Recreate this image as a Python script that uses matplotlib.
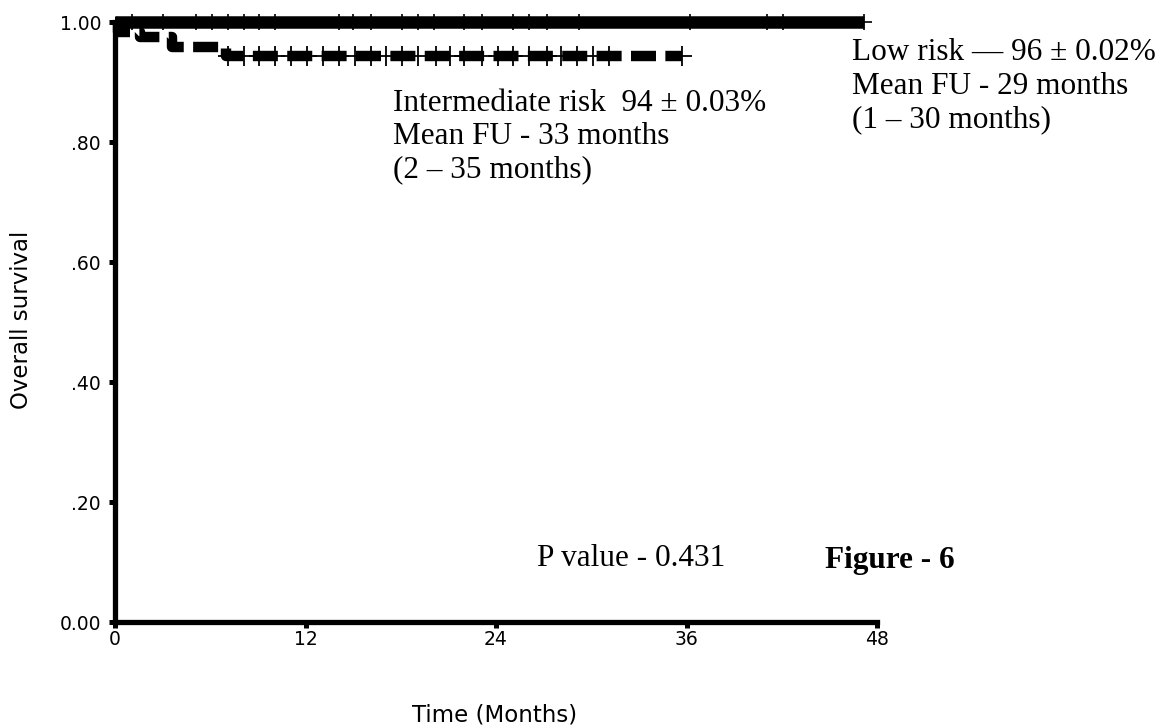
import matplotlib as mpl
import matplotlib.pyplot as plt

mpl.rcParams.update({"font.family": "DejaVu Sans"})

# Kaplan-Meier step data (months, survival)
low_t = [0, 47.2]
low_s = [1.0, 1.0]
low_cens = [1.05, 3.0, 5.1, 6.1, 7.1, 8.1, 9.1, 10.1, 14.1, 15.0, 16.1, 18.1, 19.1,
            20.1, 22.0, 23.1, 25.1, 26.1, 27.2, 29.2, 36.2, 41.1, 42.1]
low_end = 47.2

int_t = [0, 0.2, 1.6, 3.6, 7.0, 35.7]
int_s = [1.0, 0.983, 0.975, 0.958, 0.943, 0.943]
int_cens = [7.1, 8.1, 9.1, 10.1, 11.1, 12.1, 13.1, 14.1, 15.1, 16.1, 17.1, 18.1, 19.1,
            20.2, 21.1, 22.0, 23.1, 24.1, 25.1, 26.1, 27.2, 28.1, 29.1, 30.1, 31.1, 35.7]

xticks = [0, 12, 24, 36, 48]
yticks = [0.0, 0.2, 0.4, 0.6, 0.8, 1.0]
ytick_labels = ["0.00", ".20", ".40", ".60", ".80", "1.00"]

fig = plt.figure(figsize=(11.62, 7.28), dpi=100)
ax = fig.add_axes([115 / 1162, 1 - 622 / 728, 762 / 1162, 600 / 728])
ax.set_xlim(0, 48)
ax.set_ylim(0, 1.0)

# low risk: solid thick line with censor ticks
ax.plot(low_t, low_s, color="black", lw=9, solid_capstyle="butt", clip_on=False, zorder=3)
ax.plot(low_cens, [1.0] * len(low_cens), ls="none", marker="|", ms=11, mew=1.2,
        color="black", clip_on=False, zorder=4)
ax.plot([low_end], [1.0], ls="none", marker="+", ms=12, mew=1.2, color="black",
        clip_on=False, zorder=4)

# intermediate risk: dashed thick step line with censor crosses
ax.step(int_t, int_s, where="post", color="black", lw=7.5, ls=(0, (2.4, 0.9)),
        clip_on=False, zorder=3)
int_cs = []
for c in int_cens:
    v = int_s[0]
    for t, s in zip(int_t, int_s):
        if t <= c:
            v = s
    int_cs.append(v)
ax.plot(int_cens, int_cs, ls="none", marker="+", ms=15, mew=1.3, color="black",
        clip_on=False, zorder=4)

# axes styling
for side in ["top", "right"]:
    ax.spines[side].set_visible(False)
for side in ["left", "bottom"]:
    ax.spines[side].set_linewidth(3.8)
ax.set_xticks(xticks)
ax.set_xticklabels([str(x) for x in xticks])
ax.set_yticks(yticks)
ax.set_yticklabels(ytick_labels)
ax.tick_params(direction="out", length=4, width=3.6, labelsize=13.5)
ax.tick_params(axis="y", pad=6)
ax.tick_params(axis="x", pad=2)

fig.text(495 / 1162, 1 - 715 / 728, "Time (Months)", ha="center", va="center", fontsize=16.5)
fig.text(22 / 1162, 1 - 320 / 728, "Overall survival", ha="center", va="center",
         rotation=90, fontsize=16.5)

serif = "Liberation Serif"
ax.text(17.5, 0.889, "Intermediate risk  94 \u00b1 0.03%\nMean FU - 33 months\n(2 \u2013 35 months)",
        ha="left", va="top", fontsize=22.5, family=serif, linespacing=1.2)
ax.text(46.4, 0.973, "Low risk \u2014 96 \u00b1 0.02%\nMean FU - 29 months\n(1 \u2013 30 months)",
        ha="left", va="top", fontsize=22.5, family=serif, linespacing=1.2, clip_on=False)
ax.text(26.6, 0.106, "P value - 0.431", ha="left", va="center", fontsize=22.5, family=serif)
ax.text(44.7, 0.102, "Figure - 6", ha="left", va="center", fontsize=22.5, family=serif,
        fontweight="bold")

fig.savefig("out.png", dpi=100)
